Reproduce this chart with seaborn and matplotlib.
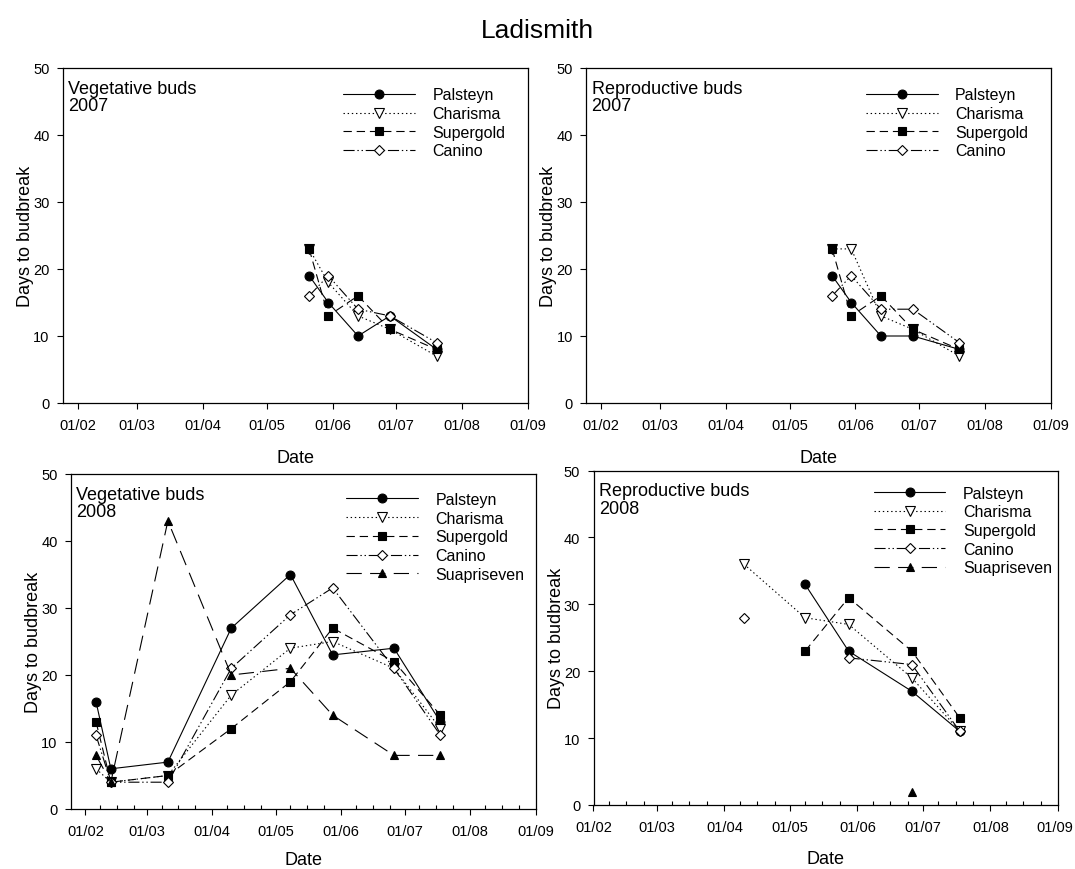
import numpy as np
import pandas as pd
import matplotlib
matplotlib.use("Agg")
import matplotlib.pyplot as plt
import matplotlib.dates as mdates
import matplotlib.transforms as mtransforms
from matplotlib.lines import Line2D
import seaborn as sns

nan = np.nan

# ---- sampling dates -------------------------------------------------------
dates_2007 = ["2007-05-21", "2007-05-30", "2007-06-13", "2007-06-28", "2007-07-20"]
dates_2008_veg = ["2008-02-06", "2008-02-13", "2008-03-11", "2008-04-10",
                  "2008-05-08", "2008-05-28", "2008-06-26", "2008-07-18"]
dates_2008_rep = ["2008-04-10", "2008-05-08", "2008-05-28", "2008-06-26", "2008-07-18"]

# ---- days to budbreak: vegetative buds 2007 --------------------------------
veg07_palsteyn = [19, 15, 10, 13, 8]
veg07_charisma = [23, 18, 13, 11, 7]
veg07_supergold = [23, 13, 16, 11, 8]
veg07_canino = [16, 19, 14, 13, 9]

# ---- reproductive buds 2007 -------------------------------------------------
rep07_palsteyn = [19, 15, 10, 10, 8]
rep07_charisma = [23, 23, 13, 11, 7]
rep07_supergold = [23, 13, 16, 11, 8]
rep07_canino = [16, 19, 14, 14, 9]

# ---- vegetative buds 2008 ---------------------------------------------------
veg08_palsteyn = [16, 6, 7, 27, 35, 23, 24, 13]
veg08_charisma = [6, 4, 5, 17, 24, 25, 21, 12]
veg08_supergold = [13, 4, 5, 12, 19, 27, 22, 14]
veg08_canino = [11, 4, 4, 21, 29, 33, 21, 11]
veg08_suapriseven = [8, 4, 43, 20, 21, 14, 8, 8]

# ---- reproductive buds 2008 -------------------------------------------------
rep08_palsteyn = [nan, 33, 23, 17, 11]
rep08_charisma = [36, 28, 27, 19, 11]
rep08_supergold = [nan, 23, 31, 23, 13]
rep08_canino = [28, nan, 22, 21, 11]
rep08_suapriseven = [nan, nan, nan, 2, nan]

y_ticks = [0, 10, 20, 30, 40, 50]

# ---- line / marker style per cultivar ---------------------------------------
STYLE = {
    "Palsteyn":    dict(ls="-", marker="o", ms=6.4, mfc="black"),
    "Charisma":    dict(ls=(0, (1, 2)), marker="v", ms=6.5, mfc="white"),
    "Supergold":   dict(ls=(0, (6, 3.5)), marker="s", ms=5.6, mfc="black"),
    "Canino":      dict(ls=(0, (8, 2, 1, 2, 1, 2)), marker="D", ms=5.0, mfc="white"),
    "Suapriseven": dict(ls=(0, (11, 6)), marker="^", ms=6.0, mfc="black"),
}

sns.set_style("ticks")
plt.rcParams["font.family"] = ["Liberation Sans", "DejaVu Sans"]
plt.rcParams["lines.scale_dashes"] = False
plt.rcParams["text.color"] = "black"
plt.rcParams["axes.labelcolor"] = "black"
plt.rcParams["xtick.color"] = "black"
plt.rcParams["ytick.color"] = "black"

W, H = 1075, 870
fig = plt.figure(figsize=(W / 100, H / 100), dpi=100)


def add_axes_px(left, right, top, bottom):
    return fig.add_axes([left / W, 1 - bottom / H, (right - left) / W, (bottom - top) / H])


def long_frame(dates, series):
    rows = []
    for name, vals in series.items():
        seg, gap = 0, True
        for d, v in zip(dates, vals):
            if np.isnan(v):
                gap = True
                continue
            if gap:
                seg += 1
            gap = False
            rows.append((pd.Timestamp(d), float(v), name, f"{name}-{seg}"))
    return pd.DataFrame(rows, columns=["date", "days", "variety", "segment"])


def draw_panel(ax, dates, series, label, xlim, legend_xy, minor=False, xlabelpad=12):
    df = long_frame(dates, series)
    for name in series:
        st = STYLE[name]
        sub = df[df["variety"] == name]
        sns.lineplot(data=sub, x="date", y="days", units="segment", estimator=None,
                     ax=ax, color="black", linewidth=0.8, linestyle=st["ls"],
                     marker=st["marker"], markersize=st["ms"],
                     markerfacecolor=st["mfc"], markeredgecolor="black",
                     markeredgewidth=0.8, legend=False)
    ax.set_xlim(mdates.date2num(pd.Timestamp(xlim[0])), mdates.date2num(pd.Timestamp(xlim[1])))
    ax.set_ylim(0, 50)
    ax.set_yticks(y_ticks)
    ax.xaxis.set_major_locator(mdates.MonthLocator())
    ax.xaxis.set_major_formatter(mdates.DateFormatter("%d/%m"))
    if minor:
        ax.xaxis.set_minor_locator(mdates.DayLocator(bymonthday=[8, 16, 24]))
        ax.tick_params(axis="x", which="minor", direction="in", length=3, width=0.8)
    ax.tick_params(axis="both", which="major", direction="out", length=4.5, width=0.8,
                   labelsize=10.5)
    ax.tick_params(axis="x", which="major", pad=6.5)
    ax.tick_params(axis="y", which="major", pad=5)
    ax.set_xlabel("Date", fontsize=13, labelpad=xlabelpad)
    ax.set_ylabel("Days to budbreak", fontsize=13, labelpad=-0.5)
    for sp in ax.spines.values():
        sp.set_visible(True)
        sp.set_color("black")
        sp.set_linewidth(0.9)
    ax.text(0.012, 0.965, label, transform=ax.transAxes, ha="left", va="top",
            fontsize=13, linespacing=1.05)
    handles = []
    for name in series:
        st = STYLE[name]
        handles.append(Line2D([], [], color="black", linewidth=0.8, linestyle=st["ls"],
                              marker=st["marker"], markersize=st["ms"],
                              markerfacecolor=st["mfc"], markeredgecolor="black",
                              markeredgewidth=0.8))
    ax.legend(handles, list(series), loc="upper left", bbox_to_anchor=legend_xy,
              frameon=False, fontsize=11.5, handlelength=4.5, handletextpad=1.1,
              labelspacing=0.23, borderpad=0, borderaxespad=0, markerscale=1.0)


ax_tl = add_axes_px(62.7, 528, 69, 404)
ax_tr = add_axes_px(586, 1050.7, 69, 404)
ax_bl = add_axes_px(70.7, 535.5, 475, 810)
ax_br = add_axes_px(593.5, 1058, 471.6, 806)

draw_panel(ax_tl, dates_2007,
           {"Palsteyn": veg07_palsteyn, "Charisma": veg07_charisma,
            "Supergold": veg07_supergold, "Canino": veg07_canino},
           "Vegetative buds\n2007", ("2007-01-25", "2007-09-01"), (0.602, 0.942))
draw_panel(ax_tr, dates_2007,
           {"Palsteyn": rep07_palsteyn, "Charisma": rep07_charisma,
            "Supergold": rep07_supergold, "Canino": rep07_canino},
           "Reproductive buds\n2007", ("2007-01-25", "2007-09-01"), (0.602, 0.942))
draw_panel(ax_bl, dates_2008_veg,
           {"Palsteyn": veg08_palsteyn, "Charisma": veg08_charisma,
            "Supergold": veg08_supergold, "Canino": veg08_canino,
            "Suapriseven": veg08_suapriseven},
           "Vegetative buds\n2008", ("2008-01-25", "2008-09-01"), (0.592, 0.946),
           minor=True, xlabelpad=9.5)
draw_panel(ax_br, dates_2008_rep,
           {"Palsteyn": rep08_palsteyn, "Charisma": rep08_charisma,
            "Supergold": rep08_supergold, "Canino": rep08_canino,
            "Suapriseven": rep08_suapriseven},
           "Reproductive buds\n2008", ("2008-02-01", "2008-09-01"), (0.603, 0.955),
           minor=True, xlabelpad=11)

fig.text(0.5, 1 - 31 / H, "Ladismith", ha="center", va="center", fontsize=19)

# keep the last month label of the lower-right panel inside the figure
fig.canvas.draw()
last_loc = mdates.date2num(pd.Timestamp("2008-09-01"))
nudge = mtransforms.ScaledTranslation(-3 / 100, 0, fig.dpi_scale_trans)
for tick in ax_br.xaxis.get_major_ticks():
    if abs(tick.get_loc() - last_loc) < 0.5:
        tick.label1.set_transform(tick.label1.get_transform() + nudge)

fig.savefig("out.png", dpi=100)
